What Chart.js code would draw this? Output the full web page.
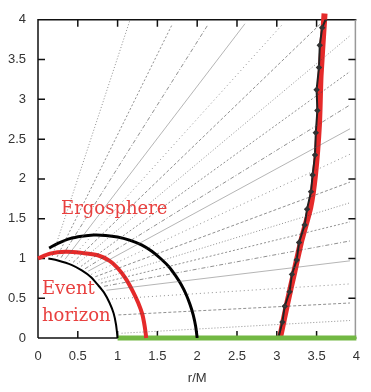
<!DOCTYPE html>
<html>
<head>
<meta charset="utf-8">
<script src="https://cdn.jsdelivr.net/npm/chart.js@4"></script>
<style>
  html, body { margin: 0; padding: 0; background: #fff; }
</style>
</head>
<body>
<canvas id="chart" width="371" height="392"></canvas>
<script>
// inner black arc (horizon)
const horizonX = [0.13, 0.25, 0.42, 0.55, 0.66, 0.75, 0.83, 0.90, 0.95, 0.98, 1.00];
const horizonY = [1.00, 0.975, 0.92, 0.85, 0.77, 0.67, 0.57, 0.44, 0.31, 0.17, 0.00];

// outer black arc
const ergoX = [0.14, 0.25, 0.40, 0.55, 0.70, 0.85, 1.00, 1.15, 1.30, 1.43, 1.55, 1.65, 1.73, 1.80, 1.86, 1.91, 1.95, 1.98, 2.00];
const ergoY = [1.13, 1.19, 1.25, 1.28, 1.295, 1.29, 1.27, 1.23, 1.17, 1.09, 0.99, 0.89, 0.78, 0.67, 0.55, 0.42, 0.29, 0.15, 0.00];

// red arc (ergosphere)
const redArcX = [0.00, 0.15, 0.35, 0.55, 0.75, 0.90, 1.00, 1.10, 1.19, 1.26, 1.31, 1.34, 1.36];
const redArcY = [1.00, 1.06, 1.085, 1.07, 1.04, 0.97, 0.88, 0.75, 0.59, 0.44, 0.30, 0.15, 0.00];

// thick red line on the right
const lightX = [3.04, 3.13, 3.22, 3.31, 3.42, 3.48, 3.53, 3.55, 3.60];
const lightY = [0.00, 0.43, 0.83, 1.23, 1.64, 2.05, 2.69, 3.30, 4.08];

// black jagged curve behind it
const surfX = [3.02, 3.07, 3.10, 3.16, 3.19, 3.25, 3.28, 3.35, 3.38, 3.43, 3.45, 3.48, 3.49, 3.51, 3.50, 3.53, 3.54, 3.57, 3.62];
const surfY = [0.00, 0.20, 0.40, 0.58, 0.80, 0.98, 1.20, 1.42, 1.62, 1.84, 2.05, 2.30, 2.58, 2.86, 3.12, 3.40, 3.68, 3.90, 4.02];

// green equator segment
const diskX = [1.0, 4.0];
const diskY = [0.0, 0.0];

// field lines: start and end points
const fieldStartX = [0.18, 0.24, 0.29, 0.34, 0.39, 0.44, 0.49, 0.54, 0.59, 0.63, 0.67, 0.72, 0.76, 0.79, 0.83, 0.86, 0.93, 1.01, 1.05];
const fieldStartY = [1.03, 1.02, 1.01, 0.99, 0.97, 0.95, 0.93, 0.90, 0.87, 0.84, 0.80, 0.77, 0.73, 0.69, 0.65, 0.60, 0.49, 0.29, 0.06];
const fieldEndX   = [1.15, 1.68, 2.13, 2.60, 3.06, 3.55, 3.92, 3.92, 3.92, 3.92, 3.92, 3.92, 3.92, 3.92, 3.92, 3.92, 3.92, 3.92, 3.92];
const fieldEndY   = [3.98, 3.93, 3.93, 3.95, 3.93, 3.95, 3.80, 3.35, 2.93, 2.63, 2.31, 1.96, 1.70, 1.46, 1.22, 0.97, 0.68, 0.44, 0.22];

const tickValues = [0, 0.5, 1, 1.5, 2, 2.5, 3, 3.5, 4];

const dashes = [[1, 2], [2, 2], [4, 2, 1, 2], [], [1, 3], [3, 2]];

function pts(xs, ys) {
    return xs.map((v, i) => ({x: v, y: ys[i]}));
}

const datasets = [];
fieldStartX.forEach((sx, i) => {
    const dash = dashes[i % dashes.length];
    datasets.push({
        data: [{x: sx, y: fieldStartY[i]}, {x: fieldEndX[i], y: fieldEndY[i]}],
        showLine: true,
        borderColor: dash.length ? 'rgba(70,70,70,0.6)' : 'rgba(90,90,90,0.45)',
        borderWidth: 1,
        borderDash: dash,
        pointRadius: 0
    });
});
datasets.push({
    data: pts(horizonX, horizonY), showLine: true, borderColor: '#000',
    borderWidth: 2, pointRadius: 0, tension: 0.3
});
datasets.push({
    data: pts(ergoX, ergoY), showLine: true, borderColor: '#000',
    borderWidth: 3, pointRadius: 0, tension: 0.3
});
datasets.push({
    data: pts(redArcX, redArcY), showLine: true, borderColor: '#e52a2a',
    borderWidth: 4, pointRadius: 0, tension: 0.3, clip: false
});
datasets.push({
    data: pts(diskX, diskY), showLine: true, borderColor: '#72b843',
    borderWidth: 5, pointRadius: 0, clip: false
});
datasets.push({
    data: pts(surfX, surfY), showLine: true, borderColor: '#222',
    borderWidth: 2, pointRadius: 1.8, pointStyle: 'rectRot',
    pointBackgroundColor: '#333', pointBorderColor: '#333'
});
datasets.push({
    data: pts(lightX, lightY), showLine: true, borderColor: '#e52a2a',
    borderWidth: 6, pointRadius: 0, tension: 0.2, clip: false
});

const framePlugin = {
    id: 'frame',
    beforeDatasetsDraw(chart) {
        const {ctx, chartArea: a, scales: {x, y}} = chart;
        ctx.save();
        ctx.lineWidth = 1.5;
        ctx.strokeStyle = '#111';
        ctx.beginPath();
        ctx.moveTo(a.left, a.bottom);
        ctx.lineTo(a.left, a.top);
        ctx.lineTo(a.right, a.top);
        ctx.moveTo(a.left, a.bottom);
        ctx.lineTo(a.right, a.bottom);
        ctx.stroke();
        ctx.strokeStyle = '#999';
        ctx.beginPath();
        ctx.moveTo(a.right - 1, a.top);
        ctx.lineTo(a.right - 1, a.bottom);
        ctx.stroke();
        ctx.strokeStyle = '#111';
        ctx.beginPath();
        tickValues.slice(1, -1).forEach(v => {
            const px = x.getPixelForValue(v);
            ctx.moveTo(px, a.bottom); ctx.lineTo(px, a.bottom - 7);
            ctx.moveTo(px, a.top); ctx.lineTo(px, a.top + 7);
            const py = y.getPixelForValue(v);
            ctx.moveTo(a.left, py); ctx.lineTo(a.left + 7, py);
            ctx.moveTo(a.right - 1, py); ctx.lineTo(a.right - 8, py);
        });
        ctx.stroke();
        ctx.restore();
    },
    afterDatasetsDraw(chart) {
        const {ctx, scales: {x, y}} = chart;
        ctx.save();
        ctx.fillStyle = '#e8403f';
        ctx.font = '18px "DejaVu Serif"';
        ctx.textBaseline = 'alphabetic';
        ctx.fillText('Ergosphere', x.getPixelForValue(0.29), y.getPixelForValue(1.56));
        ctx.fillText('Event', x.getPixelForValue(0.05), y.getPixelForValue(0.55));
        ctx.fillText('horizon', x.getPixelForValue(0.05), y.getPixelForValue(0.21));
        ctx.restore();
    }
};

const tickFont = {family: '"Liberation Sans", Arial, sans-serif', size: 13};
const fmt = v => String(v);

new Chart(document.getElementById('chart'), {
    type: 'scatter',
    data: {datasets: datasets},
    plugins: [framePlugin],
    options: {
        responsive: false,
        animation: false,
        devicePixelRatio: 1,
        layout: {padding: {top: 9, right: 1, left: 0, bottom: 0}},
        plugins: {legend: {display: false}, tooltip: {enabled: false}},
        scales: {
            x: {
                type: 'linear', min: 0, max: 4,
                afterBuildTicks: s => { s.ticks = tickValues.map(v => ({value: v})); },
                ticks: {autoSkip: false, maxRotation: 0, padding: 11, color: '#333', font: tickFont, callback: fmt},
                grid: {display: false, drawTicks: false},
                border: {display: false},
                title: {display: true, text: 'r/M', color: '#333', font: tickFont, padding: {top: 4, bottom: 6}},
                afterFit: s => { s.height = 54; }
            },
            y: {
                type: 'linear', min: 0, max: 4,
                afterBuildTicks: s => { s.ticks = tickValues.map(v => ({value: v})); },
                ticks: {autoSkip: false, padding: 12, color: '#333', font: tickFont, callback: fmt},
                grid: {display: false, drawTicks: false},
                border: {display: false},
                afterFit: s => { s.width = 38; }
            }
        }
    }
});
</script>
</body>
</html>
